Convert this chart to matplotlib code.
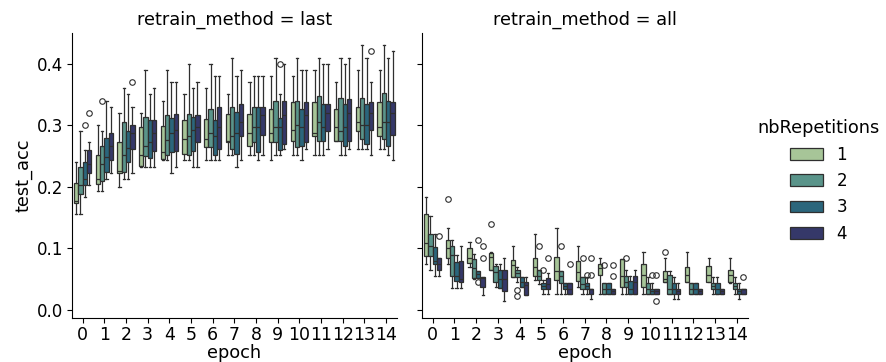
import numpy as np
import matplotlib
matplotlib.use("Agg")
import matplotlib.pyplot as plt
from matplotlib.patches import Patch
import seaborn as sns

epochs = list(range(15))
reps = [1, 2, 3, 4]
methods = ["last", "all"]

# five-number summaries, rows = epoch, columns = nbRepetitions 1..4
last_lo = [[.155, .155, .183, .203], [.193, .193, .212, .222], [.200, .212, .212, .222],
           [.232, .232, .232, .232], [.243, .243, .222, .232], [.243, .243, .232, .232],
           [.243, .243, .243, .243], [.251, .251, .232, .243], [.251, .251, .243, .251],
           [.243, .251, .251, .261], [.251, .251, .243, .261], [.251, .251, .251, .261],
           [.274, .251, .251, .261], [.261, .261, .261, .251], [.261, .261, .251, .243]]
last_q1 = [[.173, .188, .203, .222], [.204, .209, .224, .243], [.222, .224, .241, .261],
           [.233, .250, .246, .258], [.245, .251, .256, .258], [.254, .251, .258, .272],
           [.264, .264, .251, .261], [.272, .262, .254, .282], [.266, .272, .256, .284],
           [.272, .272, .259, .269], [.274, .264, .266, .272], [.282, .274, .275, .290],
           [.274, .274, .266, .275], [.290, .277, .269, .293], [.282, .277, .266, .284]]
last_med = [[.177, .203, .212, .237], [.212, .237, .248, .266], [.225, .251, .263, .287],
            [.251, .266, .272, .287], [.256, .276, .287, .292], [.277, .282, .292, .297],
            [.277, .287, .282, .297], [.274, .282, .287, .305], [.287, .297, .297, .316],
            [.287, .297, .297, .316], [.292, .301, .297, .316], [.287, .306, .297, .320],
            [.297, .290, .297, .320], [.306, .301, .301, .320], [.297, .306, .306, .320]]
last_q3 = [[.206, .232, .241, .259], [.251, .267, .279, .288], [.272, .306, .290, .301],
           [.297, .313, .308, .308], [.298, .316, .311, .319], [.308, .318, .314, .316],
           [.310, .327, .308, .330], [.318, .330, .321, .335], [.319, .330, .330, .330],
           [.327, .340, .311, .340], [.337, .340, .327, .338], [.337, .348, .335, .335],
           [.327, .345, .335, .343], [.330, .345, .335, .338], [.338, .353, .340, .338]]
last_hi = [[.240, .290, .260, .272], [.300, .290, .340, .330], [.320, .360, .350, .330],
           [.320, .390, .350, .360], [.340, .390, .370, .370], [.350, .400, .360, .370],
           [.360, .400, .380, .380], [.350, .410, .380, .390], [.370, .380, .380, .380],
           [.380, .410, .350, .400], [.380, .410, .390, .390], [.390, .410, .400, .400],
           [.370, .410, .400, .410], [.390, .430, .410, .370], [.390, .430, .410, .420]]
# outliers: (epoch, nbRepetitions, value)
last_fliers = [(0, 3, .300), (0, 4, .320), (1, 2, .340), (2, 4, .370), (9, 3, .400), (13, 4, .420)]

all_lo = [[.075, .064, .055, .055], [.075, .036, .036, .036], [.070, .050, .052, .024],
          [.065, .037, .036, .015], [.054, .045, .037, .024], [.049, .042, .026, .026],
          [.026, .026, .026, .026], [.037, .026, .026, .017], [.026, .026, .026, .026],
          [.026, .026, .026, .026], [.026, .026, .026, .026], [.045, .026, .017, .017],
          [.045, .026, .026, .026], [.045, .026, .026, .026], [.044, .026, .017, .026]]
all_q1 = [[.088, .088, .075, .064], [.085, .055, .047, .045], [.076, .052, .052, .037],
          [.065, .045, .036, .031], [.054, .054, .037, .024], [.055, .049, .034, .034],
          [.049, .044, .034, .026], [.047, .034, .034, .026], [.056, .026, .026, .026],
          [.037, .037, .026, .026], [.037, .026, .026, .026], [.045, .026, .026, .026],
          [.045, .026, .026, .026], [.045, .034, .026, .026], [.045, .034, .026, .026]]
all_med = [[.109, .104, .080, .075], [.100, .089, .055, .050], [.084, .068, .058, .052],
           [.086, .061, .050, .050], [.073, .060, .045, .040], [.070, .055, .038, .042],
           [.063, .055, .038, .034], [.061, .042, .039, .034], [.068, .034, .034, .030],
           [.055, .045, .034, .045], [.056, .034, .030, .030], [.050, .034, .034, .030],
           [.056, .034, .034, .030], [.056, .039, .034, .030], [.056, .039, .030, .034]]
all_q3 = [[.156, .123, .102, .085], [.114, .104, .078, .080], [.100, .083, .063, .053],
          [.092, .071, .065, .065], [.081, .065, .054, .045], [.084, .065, .044, .052],
          [.086, .063, .044, .044], [.079, .053, .044, .034], [.075, .044, .044, .034],
          [.083, .055, .047, .055], [.075, .044, .034, .034], [.063, .057, .044, .034],
          [.069, .044, .044, .034], [.071, .044, .044, .034], [.064, .044, .034, .034]]
all_hi = [[.183, .152, .123, .085], [.133, .113, .089, .104], [.110, .090, .063, .053],
          [.094, .075, .075, .084], [.104, .070, .054, .054], [.123, .065, .049, .060],
          [.133, .063, .044, .044], [.104, .053, .053, .034], [.084, .044, .044, .034],
          [.083, .065, .055, .065], [.094, .053, .044, .034], [.084, .063, .053, .044],
          [.094, .044, .044, .034], [.084, .053, .053, .034], [.084, .053, .044, .034]]
all_fliers = [(0, 4, .120), (1, 1, .180), (2, 3, .113), (2, 3, .045), (2, 4, .104), (2, 4, .084),
              (3, 1, .140), (4, 2, .033), (4, 2, .022), (5, 2, .104), (5, 3, .065), (5, 4, .084),
              (6, 2, .104), (6, 4, .075), (7, 2, .084), (7, 3, .057), (7, 4, .084), (7, 4, .057),
              (8, 2, .073), (8, 4, .073), (8, 4, .055), (9, 2, .084), (10, 3, .056), (10, 4, .056),
              (10, 4, .015), (11, 1, .094), (14, 4, .053)]

summaries = {
    "last": (last_lo, last_q1, last_med, last_q3, last_hi, last_fliers),
    "all": (all_lo, all_q1, all_med, all_q3, all_hi, all_fliers),
}

# numeric hue -> full crest colormap range, desaturated like seaborn boxes
cmap = sns.color_palette("crest", as_cmap=True)
norm = matplotlib.colors.Normalize(min(reps), max(reps))
colors = [sns.desaturate(cmap(norm(r))[:3], 0.75) for r in reps]
light = [(max(c) + min(c)) / 2 for c in colors]
g = min(light) * 0.6
linecolor = (g, g, g)

fig = plt.figure(figsize=(8.86, 3.62), dpi=100)
axes = [fig.add_axes([0.081, 0.122, 0.367, 0.787]),
        fig.add_axes([0.476, 0.122, 0.368, 0.787])]

width = 0.8 / len(reps)
for ax, m in zip(axes, methods):
    lo, q1, med, q3, hi, fl = summaries[m]
    for j, r in enumerate(reps):
        stats = []
        for e in epochs:
            stats.append(dict(whislo=lo[e][j], q1=q1[e][j], med=med[e][j], q3=q3[e][j],
                              whishi=hi[e][j],
                              fliers=[v for (fe, fr, v) in fl if fe == e and fr == r]))
        pos = np.array(epochs) - 0.4 + width * (j + 0.5)
        ax.bxp(stats, positions=pos, widths=width, patch_artist=True, manage_ticks=False,
               boxprops=dict(facecolor=colors[j], edgecolor=linecolor, linewidth=0.9),
               medianprops=dict(color=linecolor, linewidth=0.9),
               whiskerprops=dict(color=linecolor, linewidth=0.9),
               capprops=dict(color=linecolor, linewidth=0.9),
               flierprops=dict(marker="o", markerfacecolor="none", markeredgecolor=linecolor,
                               markersize=4, markeredgewidth=0.8))
    ax.set_xlim(-0.5, 14.5)
    ax.set_ylim(-0.013, 0.45)
    ax.set_xticks(epochs)
    ax.set_xticklabels([str(e) for e in epochs])
    ax.set_yticks([0.0, 0.1, 0.2, 0.3, 0.4])
    ax.tick_params(labelsize=12, pad=2.5)
    ax.tick_params(axis="x", labelsize=12.5)
    ax.set_xlabel("epoch", fontsize=12.8, labelpad=0)
    ax.set_title(f"retrain_method = {m}", fontsize=12.8)
    ax.spines["top"].set_visible(False)
    ax.spines["right"].set_visible(False)

axes[0].set_ylabel("test_acc", fontsize=12.8, labelpad=3)
axes[1].tick_params(labelleft=False)

handles = [Patch(facecolor=c, edgecolor=linecolor, linewidth=0.9, label=str(r))
           for c, r in zip(colors, reps)]
fig.legend(handles=handles, title="nbRepetitions", loc="center left",
           bbox_to_anchor=(0.838, 0.5), frameon=False, fontsize=12, title_fontsize=12.8)

fig.savefig("out.png", dpi=100)
